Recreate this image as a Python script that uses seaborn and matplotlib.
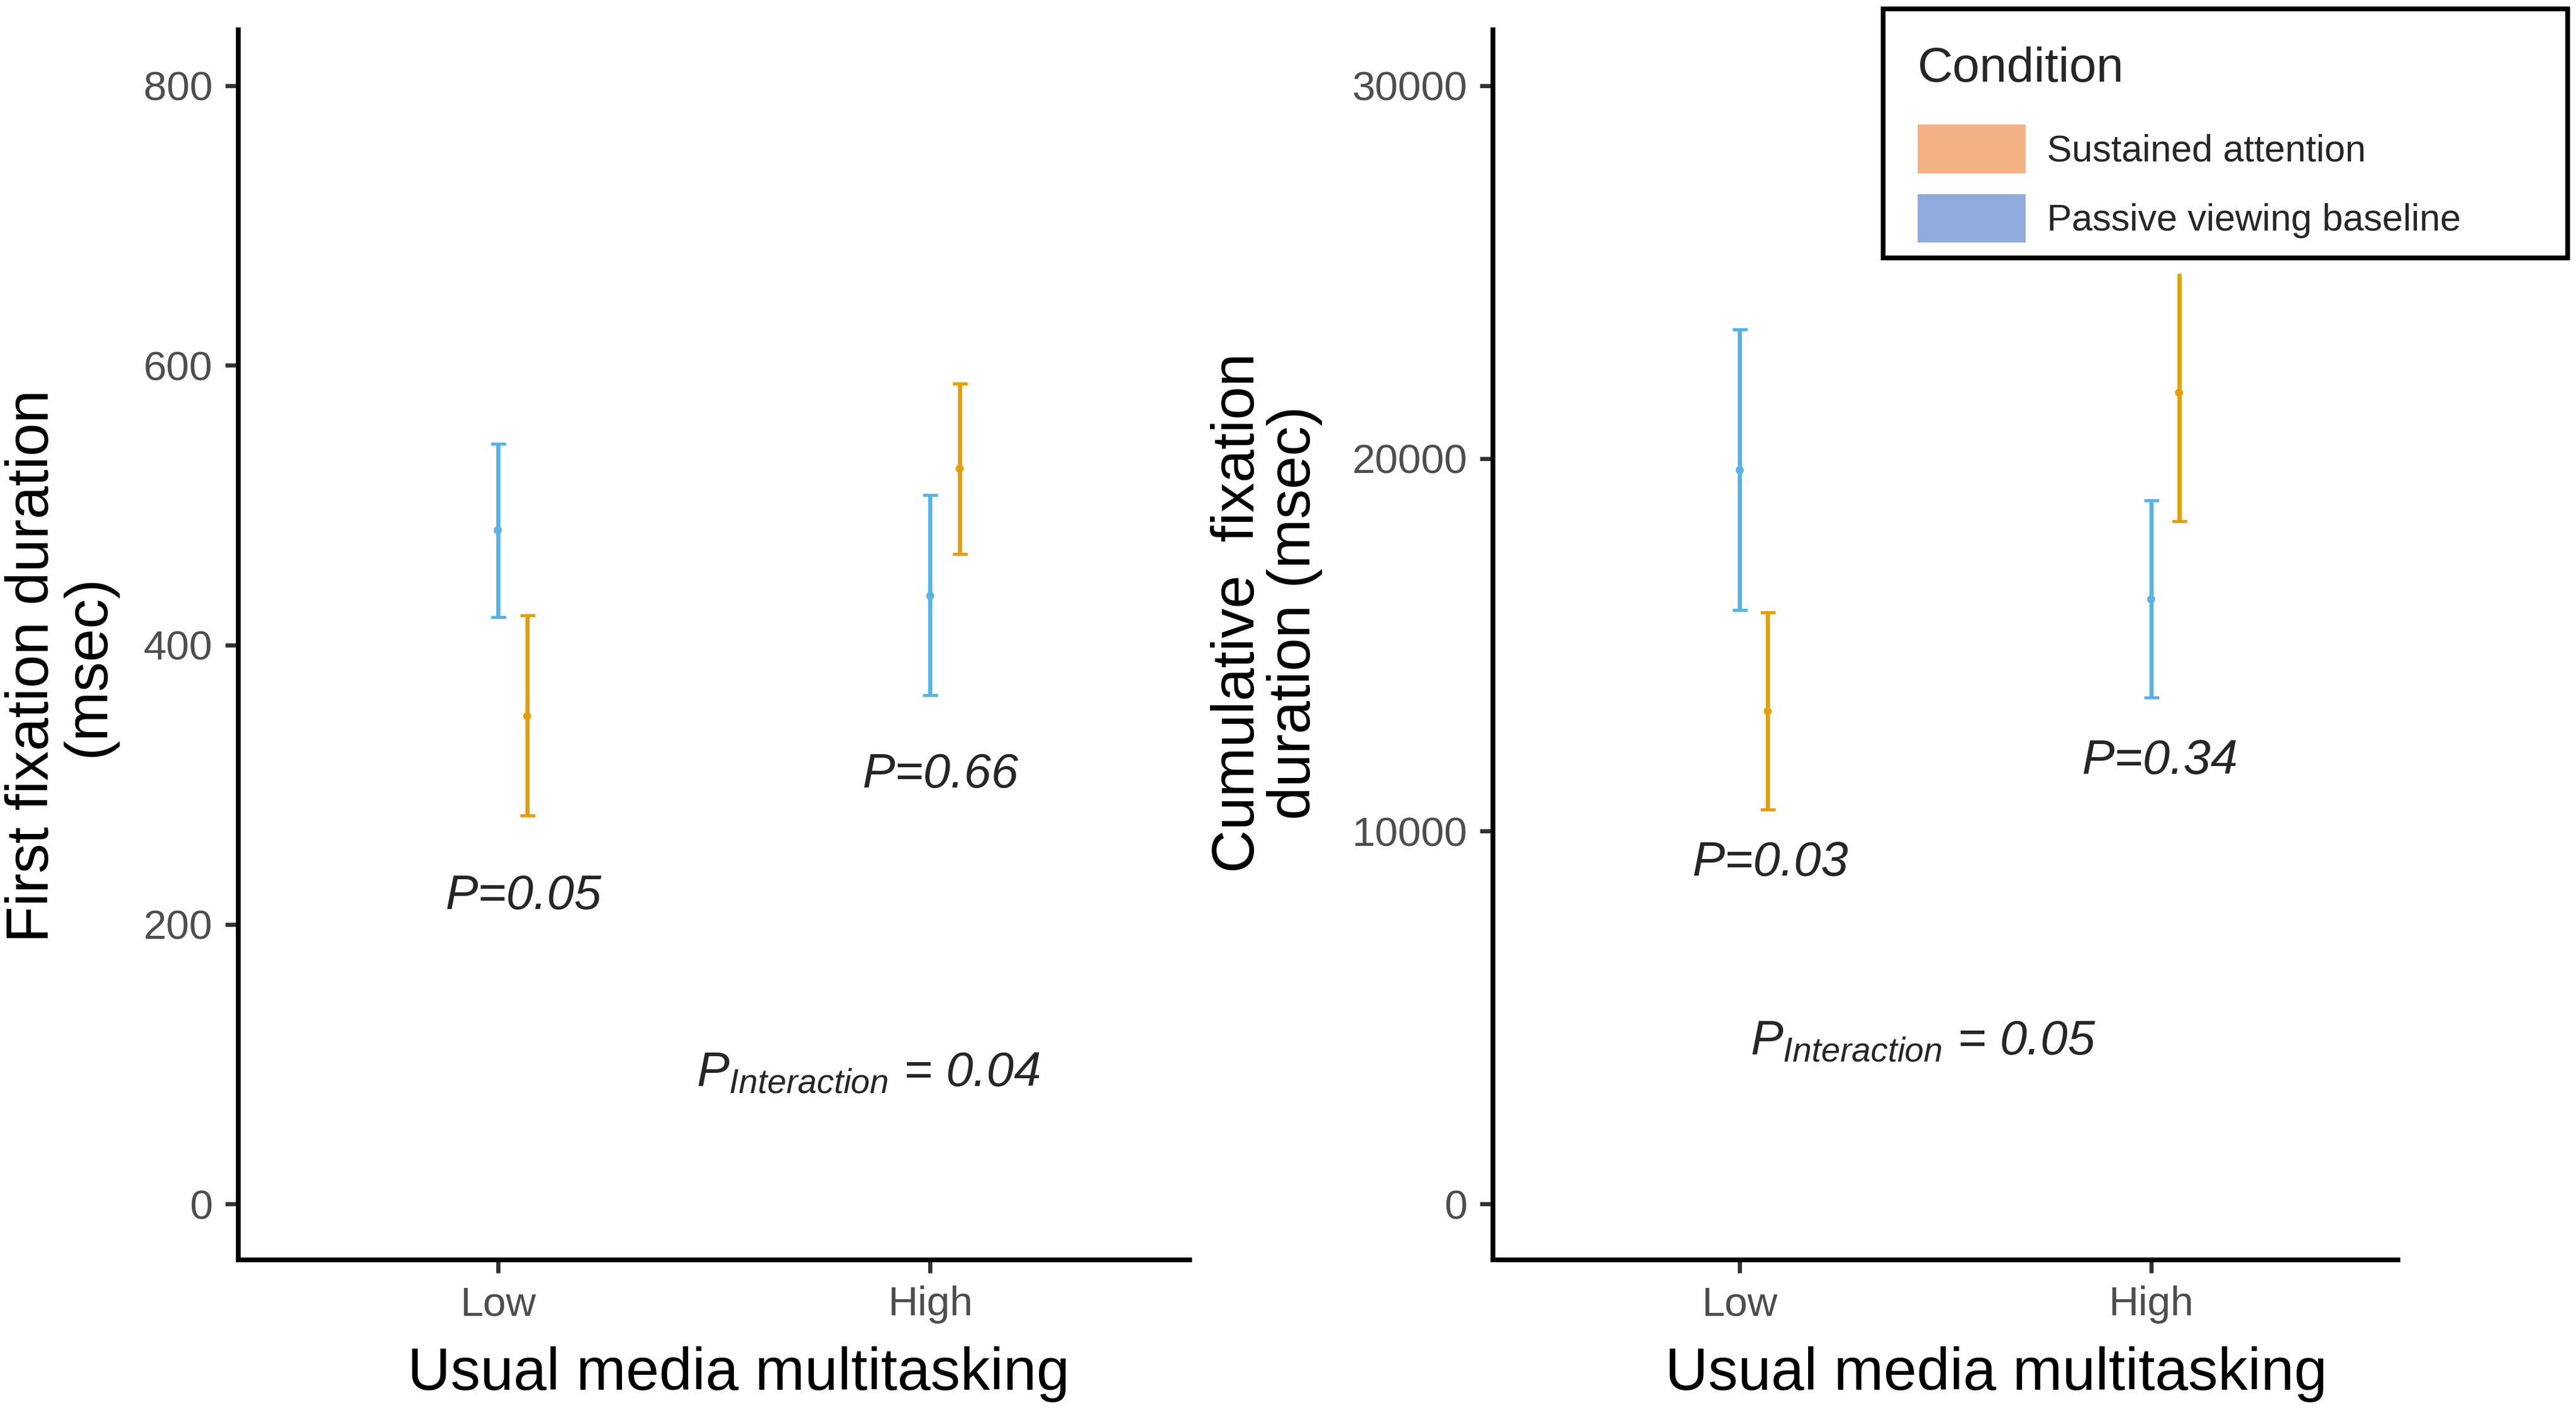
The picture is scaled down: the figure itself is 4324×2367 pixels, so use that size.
import numpy as np
import pandas as pd
import matplotlib
matplotlib.use("Agg")
import matplotlib.pyplot as plt
from matplotlib.patches import Patch, Rectangle
import seaborn as sns

# ---- data ----
categories = ["Low", "High"]
conditions = ["Sustained attention", "Passive viewing baseline"]

first_sustained_mean = [349, 526]
first_sustained_lo = [278, 465]
first_sustained_hi = [421, 587]
first_passive_mean = [482, 435]
first_passive_lo = [420, 364]
first_passive_hi = [544, 507]

cum_sustained_mean = [13216, 21765]
cum_sustained_lo = [10587, 18313]
cum_sustained_hi = [15865, 24966]
cum_passive_mean = [19687, 16221]
cum_passive_lo = [15937, 13593]
cum_passive_hi = [23459, 18873]

first_p_labels = ["P=0.05", "P=0.66"]
first_p_y = [211, 298]
first_p_inter = "0.04"
first_p_inter_y = 84
cum_p_labels = ["P=0.03", "P=0.34"]
cum_p_y = [8805, 11538]
cum_p_inter = "0.05"
cum_p_inter_y = 4011

first_yticks = [0, 200, 400, 600, 800]
cum_yticks = [0, 10000, 20000, 30000]

# ---- style ----
W, H = 4324, 2367
line_colors = {"Sustained attention": "#E69F00", "Passive viewing baseline": "#56B4E9"}
legend_colors = {"Sustained attention": "#F4B183", "Passive viewing baseline": "#8FAADC"}
dodge = {"Sustained attention": 0.068, "Passive viewing baseline": 0.0}

sns.set_theme(style="ticks")
plt.rcParams["font.family"] = ["Liberation Sans", "DejaVu Sans"]
plt.rcParams["mathtext.fontset"] = "custom"
plt.rcParams["mathtext.it"] = "Liberation Sans:italic"
plt.rcParams["mathtext.rm"] = "Liberation Sans"


def make_frame(s_mean, s_lo, s_hi, p_mean, p_lo, p_hi):
    rows = []
    for cond, m, lo, hi in [(conditions[0], s_mean, s_lo, s_hi),
                            (conditions[1], p_mean, p_lo, p_hi)]:
        for i, cat in enumerate(categories):
            rows.append({"category": cat, "condition": cond, "mean": m[i],
                         "lo": lo[i], "hi": hi[i], "x": i + dodge[cond]})
    return pd.DataFrame(rows)


def draw_panel(ax, df, yticks, ylim, hide_cap=None):
    for _, r in df.iterrows():
        _, caps, _ = ax.errorbar(r["x"], r["mean"],
                                 yerr=[[r["mean"] - r["lo"]], [r["hi"] - r["mean"]]],
                                 color=line_colors[r["condition"]], lw=5.0,
                                 capsize=9, capthick=3.8, fmt="none")
        if hide_cap is not None and (r["category"], r["condition"]) == hide_cap:
            caps[-1].set_visible(False)
    sns.scatterplot(data=df, x="x", y="mean", hue="condition", palette=line_colors,
                    s=95, edgecolor="none", legend=False, ax=ax, zorder=3)
    ax.set_xlim(-0.6, 1.6)
    ax.set_ylim(*ylim)
    ax.set_xticks(range(len(categories)))
    ax.set_xticklabels(categories)
    ax.set_yticks(yticks)
    ax.set_yticklabels([str(t) for t in yticks])
    sns.despine(ax=ax)
    for sp in ["left", "bottom"]:
        ax.spines[sp].set_linewidth(5.76)
        ax.spines[sp].set_color("black")
    ax.tick_params(axis="both", length=16, width=5.0, color="#333333",
                   labelsize=50, labelcolor="#4D4D4D", pad=15)
    ax.grid(False)


fig = plt.figure(figsize=(W / 100, H / 100), dpi=100)
ax1 = fig.add_axes([400 / W, 1 - 2115 / H, 1597 / W, 2065 / H])
ax2 = fig.add_axes([2506 / W, 1 - 2115 / H, 1519 / W, 2065 / H])

df1 = make_frame(first_sustained_mean, first_sustained_lo, first_sustained_hi,
                 first_passive_mean, first_passive_lo, first_passive_hi)
df2 = make_frame(cum_sustained_mean, cum_sustained_lo, cum_sustained_hi,
                 cum_passive_mean, cum_passive_lo, cum_passive_hi)

draw_panel(ax1, df1, first_yticks, (-40, 840))
draw_panel(ax2, df2, cum_yticks, (-1500, 31500), hide_cap=("High", "Sustained attention"))

# axis titles
ax1.set_xlabel("Usual media multitasking", fontsize=72, color="black")
ax1.xaxis.set_label_coords(0.526, -0.070)
ax1.set_ylabel("First fixation duration\n(msec)", fontsize=72, color="black", linespacing=1.0)
ax1.yaxis.set_label_coords(-0.128, 0.483)
ax2.set_xlabel("Usual media multitasking", fontsize=72, color="black")
ax2.xaxis.set_label_coords(0.556, -0.070)
ax2.set_ylabel("Cumulative  fixation\nduration (msec)", fontsize=72, color="black", linespacing=1.0)
ax2.yaxis.set_label_coords(-0.188, 0.526)

# p-value annotations
for x, lab, y in zip([0.059, 1.024], first_p_labels, first_p_y):
    ax1.text(x, y, lab, fontsize=59, style="italic", ha="center", va="baseline")
ax1.text(0.46, first_p_inter_y, r"$P_{Interaction}$ = " + first_p_inter,
         fontsize=59, style="italic", ha="left", va="baseline")
for x, lab, y in zip([0.075, 1.022], cum_p_labels, cum_p_y):
    ax2.text(x, y, lab, fontsize=59, style="italic", ha="center", va="baseline")
ax2.text(0.025, cum_p_inter_y, r"$P_{Interaction}$ = " + cum_p_inter,
         fontsize=59, style="italic", ha="left", va="baseline")

# legend: box drawn separately so the inner padding can match
fig.patches.append(Rectangle((3161 / W, 1 - 433 / H), (4310 - 3161) / W, (433 - 15) / H,
                             transform=fig.transFigure, facecolor="white",
                             edgecolor="black", linewidth=5.76, zorder=4))
handles = [Patch(facecolor=legend_colors[c], edgecolor="none", label=c) for c in conditions]
leg = fig.legend(handles=handles, title="Condition", loc="upper left",
                 bbox_to_anchor=(3172 / W, 1 - 31 / H),
                 borderaxespad=0, fontsize=45, title_fontsize=59,
                 handlelength=2.9, handleheight=1.62, handletextpad=0.58,
                 labelspacing=0.57, borderpad=0.75, frameon=False, alignment="left")
leg.set_zorder(5)
# gap between the title and the first key
leg._legend_box.sep = 40

fig.savefig("out.png", dpi=100, facecolor="white")
